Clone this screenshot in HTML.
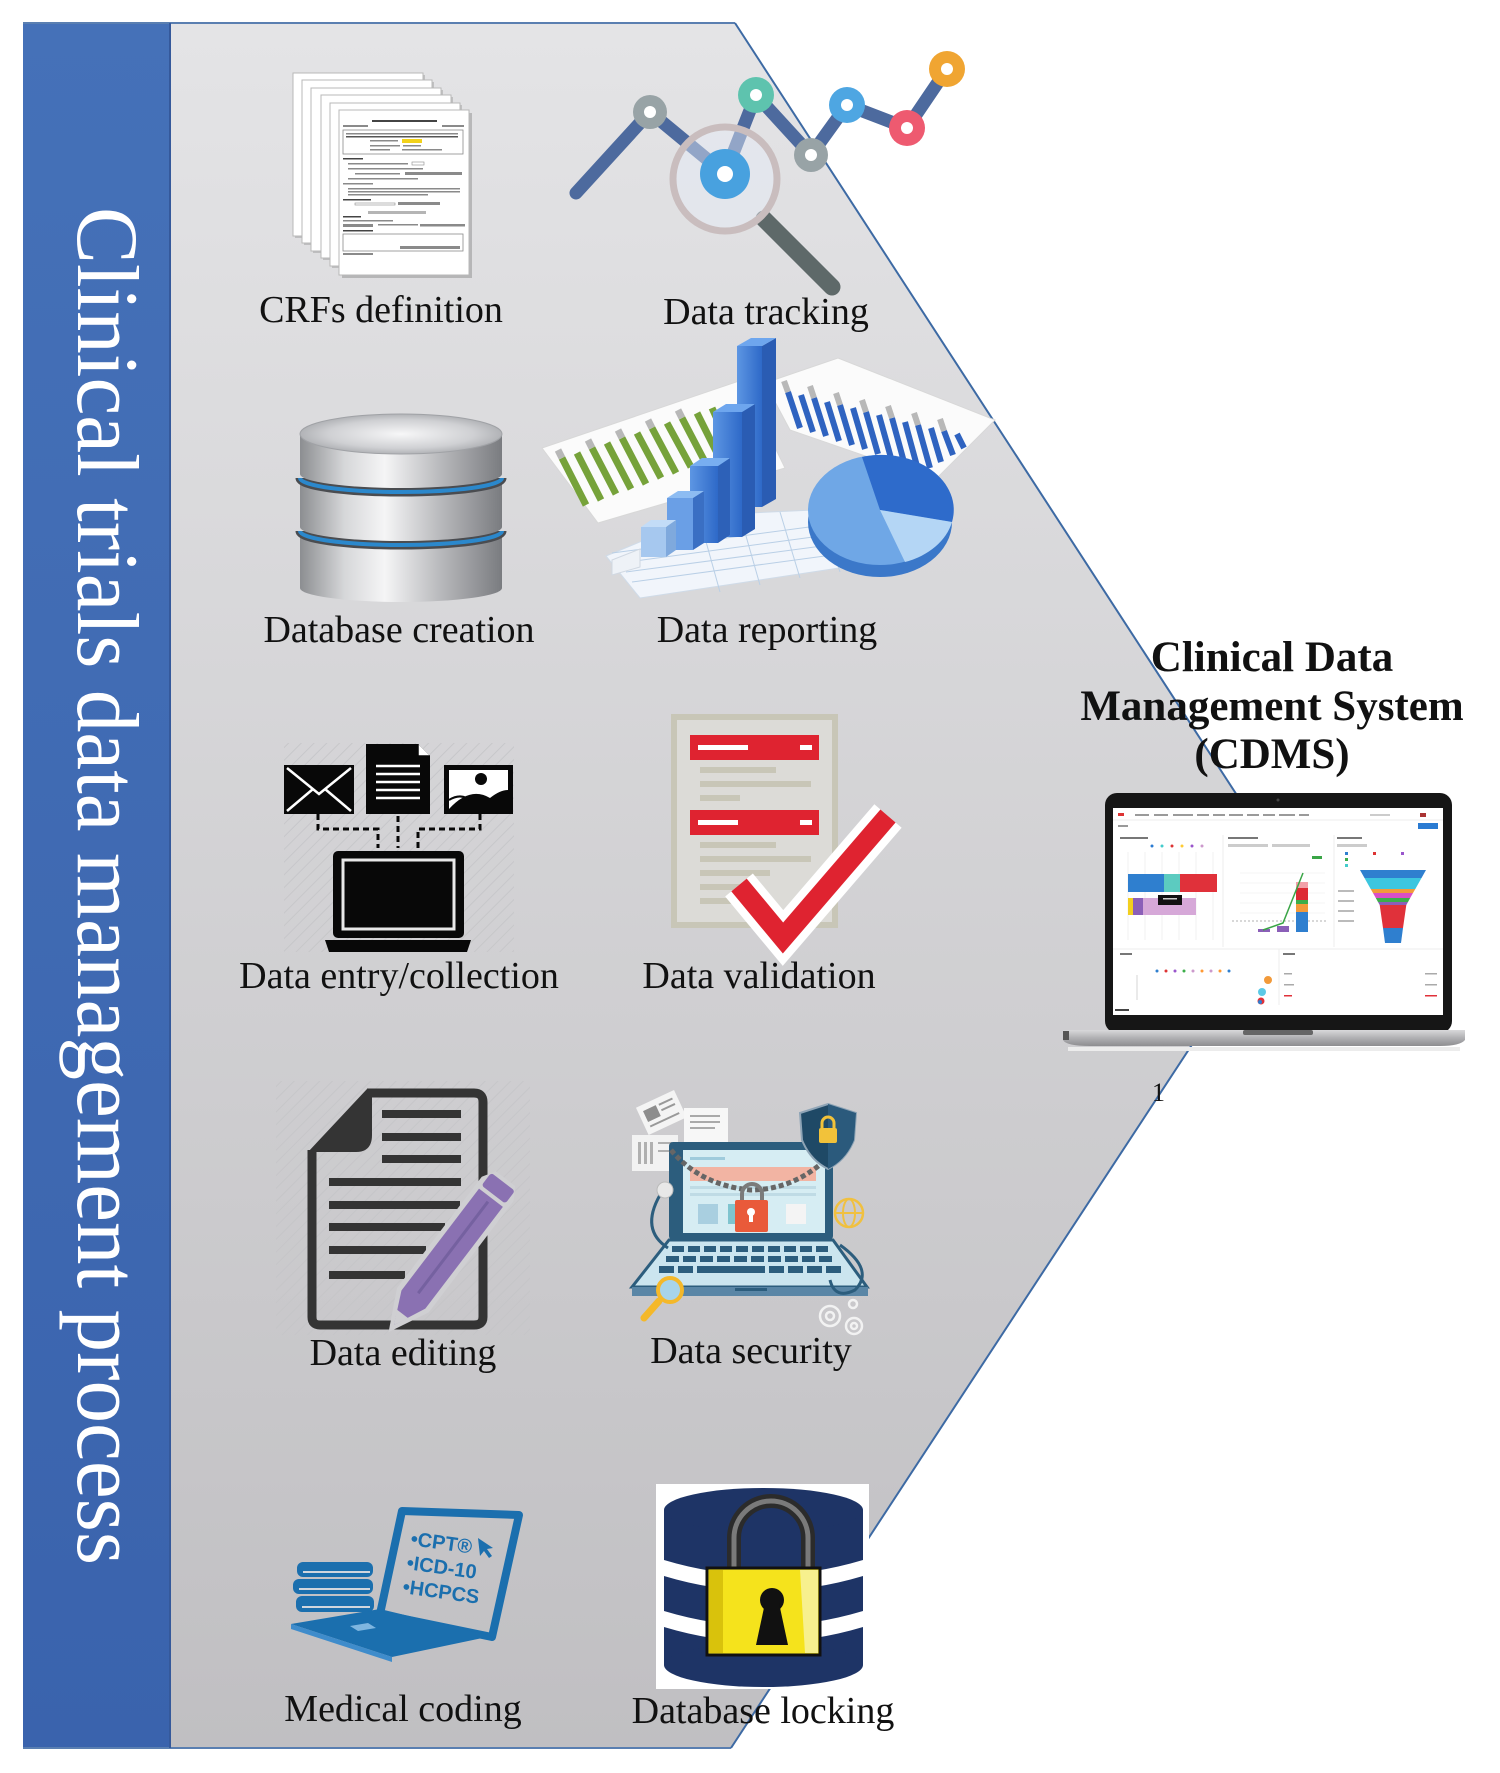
<!DOCTYPE html>
<html><head><meta charset="utf-8">
<style>
html,body{margin:0;padding:0;background:#fff;}
svg{display:block;}
.lbl{font-family:"Liberation Serif","Times New Roman",serif;font-size:38px;fill:#111;text-anchor:middle;}
</style></head><body>
<svg width="1500" height="1773" viewBox="0 0 1500 1773" xmlns="http://www.w3.org/2000/svg">
<defs>
 <linearGradient id="gbg" x1="0" y1="0" x2="0" y2="1">
  <stop offset="0" stop-color="#e4e4e6"/><stop offset="1" stop-color="#c0bfc2"/>
 </linearGradient>
 <linearGradient id="gblue" x1="0" y1="0" x2="0" y2="1">
  <stop offset="0" stop-color="#4571b8"/><stop offset="1" stop-color="#3a63ad"/>
 </linearGradient>
 <linearGradient id="silver" x1="0" x2="1" y1="0" y2="0">
  <stop offset="0" stop-color="#8c8e91"/><stop offset="0.22" stop-color="#d6d7d9"/><stop offset="0.42" stop-color="#f5f5f6"/><stop offset="0.7" stop-color="#b7b8bb"/><stop offset="1" stop-color="#7a7c80"/>
 </linearGradient>
 <radialGradient id="stop" cx="0.5" cy="0.5" r="0.6">
  <stop offset="0" stop-color="#f7f7f8"/><stop offset="0.6" stop-color="#cfd0d3"/><stop offset="1" stop-color="#9c9ea2"/>
 </radialGradient>
 <linearGradient id="barf" x1="0" x2="1" y1="0" y2="0">
  <stop offset="0" stop-color="#5d96e3"/><stop offset="1" stop-color="#2e69c8"/>
 </linearGradient>
 <linearGradient id="lbase" x1="0" x2="0" y1="0" y2="1">
  <stop offset="0" stop-color="#d9d9db"/><stop offset="0.5" stop-color="#b0b0b3"/><stop offset="1" stop-color="#8d8d90"/>
 </linearGradient>
 <pattern id="hatch" width="9" height="9" patternUnits="userSpaceOnUse" patternTransform="rotate(45)">
  <line x1="0" y1="0" x2="0" y2="9" stroke="#c4c4c7" stroke-width="2"/>
 </pattern>
</defs>

<!-- background panels -->
<rect x="23" y="23" width="147" height="1725" fill="url(#gblue)"/>
<polygon points="170,23 735,23 1296,886 731,1748 170,1748" fill="url(#gbg)"/>
<line x1="23" y1="23" x2="735" y2="23" stroke="#5a7fb1" stroke-width="2"/>
<line x1="23" y1="1748" x2="731" y2="1748" stroke="#5a7fb1" stroke-width="2"/>
<line x1="170" y1="23" x2="170" y2="1748" stroke="#35599b" stroke-width="2"/>
<polyline points="735,23 1296,886 731,1748" fill="none" stroke="#3d6aa4" stroke-width="2"/>

<!-- vertical title -->
<text transform="translate(78,207) rotate(90)" x="0" y="0" font-family="Liberation Serif, Times New Roman, serif" font-size="88" fill="#ffffff" textLength="1358" lengthAdjust="spacingAndGlyphs">Clinical trials data management process</text>

<!-- ===== CRFs pages ===== -->
<g>
 <g fill="#fff" stroke="#b8b8b8" stroke-width="1">
  <rect x="295" y="75" width="130" height="163" fill="#9d9d9d" stroke="none" opacity="0.5"/>
  <rect x="293" y="73" width="130" height="163"/>
  <rect x="304" y="82" width="130" height="163" fill="#9d9d9d" stroke="none" opacity="0.5"/>
  <rect x="302" y="80" width="130" height="163"/>
  <rect x="313" y="90" width="130" height="163" fill="#9d9d9d" stroke="none" opacity="0.5"/>
  <rect x="311" y="88" width="130" height="163"/>
  <rect x="323" y="97" width="130" height="163" fill="#9d9d9d" stroke="none" opacity="0.5"/>
  <rect x="321" y="95" width="130" height="163"/>
  <rect x="332" y="105" width="130" height="163" fill="#9d9d9d" stroke="none" opacity="0.5"/>
  <rect x="330" y="103" width="130" height="163"/>
  <rect x="342" y="113" width="130" height="165" fill="#8d8d8d" stroke="none" opacity="0.5"/>
  <rect x="339" y="110" width="130" height="165"/>
 </g>
 <g fill="#8a8a8a">
  <rect x="372" y="120" width="65" height="2" fill="#444"/>
  <rect x="343" y="125" width="25" height="2"/><rect x="442" y="125" width="22" height="2"/>
  <rect x="343" y="130" width="120" height="24" fill="none" stroke="#8a8a8a" stroke-width="0.8"/>
  <rect x="346" y="133" width="112" height="1.5"/><rect x="346" y="136" width="112" height="1.5" fill="#555"/>
  <rect x="370" y="140" width="28" height="1.5"/><rect x="402" y="139" width="20" height="4" fill="#f2d21a"/>
  <rect x="370" y="145" width="30" height="1.5"/><rect x="403" y="145" width="18" height="1.5"/>
  <rect x="370" y="149" width="20" height="1.5"/><rect x="402" y="149" width="40" height="1.5"/>
  <rect x="343" y="158" width="20" height="1.5" fill="#444"/>
  <rect x="348" y="163" width="60" height="1.5"/><rect x="412" y="162" width="12" height="3" fill="none" stroke="#8a8a8a" stroke-width="0.6"/>
  <rect x="348" y="168" width="75" height="1.5"/>
  <rect x="355" y="173" width="45" height="1.5"/><rect x="405" y="172" width="57" height="3"/>
  <rect x="348" y="178" width="70" height="1.5"/>
  <rect x="343" y="183" width="30" height="1.5"/>
  <rect x="348" y="188" width="112" height="1.5"/><rect x="348" y="191" width="112" height="1.5"/><rect x="348" y="194" width="80" height="1.5"/>
  <rect x="343" y="199" width="28" height="1.5" fill="#444"/>
  <rect x="355" y="203" width="40" height="2" fill="none" stroke="#8a8a8a" stroke-width="0.6"/><rect x="398" y="202" width="42" height="3"/>
  <rect x="368" y="211" width="58" height="3" fill="#b5b5b5"/>
  <rect x="343" y="216" width="18" height="1.5" fill="#444"/>
  <rect x="343" y="220" width="50" height="1.5"/>
  <rect x="343" y="224" width="30" height="3"/><rect x="378" y="224" width="40" height="1.5"/><rect x="420" y="224" width="45" height="2.5"/>
  <rect x="343" y="230" width="30" height="1.5" fill="#444"/>
  <rect x="343" y="234" width="120" height="17" fill="none" stroke="#8a8a8a" stroke-width="0.8"/>
  <rect x="400" y="246" width="60" height="3"/>
  <rect x="343" y="253" width="30" height="2"/>
 </g>
</g>

<!-- ===== Data tracking ===== -->
<g>
 <polyline points="576,193 650,112 725,174 756,95 811,155 847,105 907,128 947,69" fill="none" stroke="#4d6a9e" stroke-width="13" stroke-linecap="round" stroke-linejoin="round"/>
 <line x1="764" y1="219" x2="832" y2="287" stroke="#5e6969" stroke-width="17" stroke-linecap="round"/>
 <circle cx="725" cy="179" r="52" fill="#e6eef8" fill-opacity="0.45" stroke="#c9bdbe" stroke-width="7"/>
 <circle cx="650" cy="112" r="17" fill="#98a3a6"/><circle cx="650" cy="112" r="6" fill="#fff"/>
 <circle cx="725" cy="174" r="25" fill="#48a1df"/><circle cx="725" cy="174" r="8" fill="#fff"/>
 <circle cx="756" cy="95" r="18" fill="#5ec3ae"/><circle cx="756" cy="95" r="6" fill="#fff"/>
 <circle cx="811" cy="155" r="17" fill="#98a3a6"/><circle cx="811" cy="155" r="6" fill="#fff"/>
 <circle cx="847" cy="105" r="18" fill="#4ea6e2"/><circle cx="847" cy="105" r="6" fill="#fff"/>
 <circle cx="907" cy="128" r="18" fill="#ee5a70"/><circle cx="907" cy="128" r="6" fill="#fff"/>
 <circle cx="947" cy="69" r="18" fill="#f0a532"/><circle cx="947" cy="69" r="6" fill="#fff"/>
</g>

<!-- ===== Database cylinder ===== -->
<g>
 <path d="M300,535 L300,588 A101,14 0 0 0 502,588 L502,535 Z" fill="url(#silver)"/>
 <path d="M300,531 A101,14 0 0 0 502,531" fill="none" stroke="#4a4c50" stroke-width="9"/>
 <path d="M300,531 A101,14 0 0 0 502,531" fill="none" stroke="#2b88cc" stroke-width="4"/>
 <path d="M300,482 L300,527 A101,14 0 0 0 502,527 L502,482 Z" fill="url(#silver)"/>
 <path d="M300,478 A101,14 0 0 0 502,478" fill="none" stroke="#4a4c50" stroke-width="9"/>
 <path d="M300,478 A101,14 0 0 0 502,478" fill="none" stroke="#2b88cc" stroke-width="4"/>
 <path d="M300,434 L300,474 A101,14 0 0 0 502,474 L502,434 Z" fill="url(#silver)"/>
 <ellipse cx="401" cy="434" rx="101" ry="20" fill="url(#stop)" stroke="#a0a2a6" stroke-width="1"/>
</g>

<!-- ===== Data reporting ===== -->
<g>
 <polygon points="542,448 742,380 785,468 598,523" fill="#fbfbfb" stroke="#d8d8d8"/>
 <g stroke="#76a23a" stroke-width="7" stroke-linecap="butt">
  <line x1="562" y1="458" x2="586" y2="505"/><line x1="577" y1="453" x2="601" y2="500"/>
  <line x1="592" y1="448" x2="616" y2="494"/><line x1="607" y1="443" x2="631" y2="489"/>
  <line x1="622" y1="438" x2="646" y2="484"/><line x1="637" y1="433" x2="661" y2="478"/>
  <line x1="652" y1="428" x2="676" y2="473"/><line x1="667" y1="423" x2="691" y2="467"/>
  <line x1="682" y1="418" x2="704" y2="460"/><line x1="697" y1="413" x2="718" y2="455"/>
  <line x1="712" y1="408" x2="730" y2="448"/>
 </g>
 <g stroke="#b8b8b8" stroke-width="7">
  <line x1="558" y1="450" x2="562" y2="458"/><line x1="588" y1="440" x2="592" y2="448"/><line x1="618" y1="430" x2="622" y2="438"/><line x1="648" y1="420" x2="652" y2="428"/><line x1="678" y1="410" x2="682" y2="418"/>
 </g>
 <polygon points="765,383 838,358 995,420 935,480 790,430" fill="#fbfbfb" stroke="#d8d8d8"/>
 <g stroke="#2f63c0" stroke-width="6">
  <line x1="788" y1="392" x2="800" y2="428"/><line x1="801" y1="395" x2="813" y2="432"/>
  <line x1="814" y1="398" x2="826" y2="436"/><line x1="827" y1="402" x2="839" y2="441"/>
  <line x1="840" y1="405" x2="852" y2="445"/><line x1="853" y1="408" x2="865" y2="449"/>
  <line x1="866" y1="412" x2="878" y2="454"/><line x1="879" y1="415" x2="891" y2="458"/>
  <line x1="892" y1="418" x2="904" y2="462"/><line x1="905" y1="422" x2="917" y2="466"/>
  <line x1="918" y1="425" x2="930" y2="468"/><line x1="931" y1="428" x2="941" y2="462"/>
  <line x1="944" y1="431" x2="953" y2="455"/><line x1="957" y1="434" x2="964" y2="448"/>
 </g>
 <g stroke="#b8b8b8" stroke-width="6">
  <line x1="784" y1="381" x2="788" y2="392"/><line x1="810" y1="386" x2="814" y2="398"/>
  <line x1="836" y1="393" x2="840" y2="405"/><line x1="862" y1="400" x2="866" y2="412"/>
  <line x1="888" y1="406" x2="892" y2="418"/><line x1="914" y1="413" x2="918" y2="425"/>
  <line x1="940" y1="419" x2="944" y2="431"/>
 </g>
 <polygon points="606,556 705,515 858,508 872,563 640,598" fill="#f1f5fb" stroke="#cfdbe8"/>
 <g stroke="#b9cfe6" stroke-width="1">
  <line x1="620" y1="563" x2="865" y2="530"/><line x1="626" y1="572" x2="867" y2="540"/>
  <line x1="632" y1="582" x2="869" y2="550"/><line x1="612" y1="553" x2="862" y2="520"/>
  <line x1="700" y1="520" x2="720" y2="592"/><line x1="740" y1="515" x2="760" y2="585"/>
  <line x1="780" y1="512" x2="800" y2="578"/><line x1="820" y1="510" x2="840" y2="572"/>
 </g>
 <!-- 3D bars -->
 <polygon points="762,346 776,338 776,499 762,507" fill="#2a5cb3"/>
 <polygon points="737,346 751,338 776,338 762,346" fill="#6ea6ee"/>
 <rect x="737" y="346" width="25" height="161" fill="url(#barf)"/>
 <polygon points="742,412 755,404 755,529 742,537" fill="#2a5cb3"/>
 <polygon points="713,412 726,404 755,404 742,412" fill="#6ea6ee"/>
 <rect x="713" y="412" width="29" height="125" fill="url(#barf)"/>
 <polygon points="718,466 730,458 730,535 718,543" fill="#2d61b8"/>
 <polygon points="690,466 702,458 730,458 718,466" fill="#78aef0"/>
 <rect x="690" y="466" width="28" height="77" fill="url(#barf)"/>
 <polygon points="693,498 704,491 704,543 693,550" fill="#3a6fc3"/>
 <polygon points="667,498 678,491 704,491 693,498" fill="#8dbcf2"/>
 <rect x="667" y="498" width="26" height="52" fill="#6a9fe6"/>
 <polygon points="666,527 676,520 676,550 666,557" fill="#7fa9dd"/>
 <polygon points="641,527 651,520 676,520 666,527" fill="#c3dcf7"/>
 <rect x="641" y="527" width="25" height="30" fill="#a6c8ef"/>
 <polygon points="612,560 640,549 640,567 612,575" fill="#eef2f7" stroke="#d0d8e2"/>
 <!-- pie -->
 <ellipse cx="880" cy="522" rx="72" ry="55" fill="#3b78c9"/>
 <ellipse cx="880" cy="510" rx="72" ry="55" fill="#6fa7e6"/>
 <path d="M880,510 L862,457 A72,55 0 0 1 952,522 Z" fill="#2e6bcb"/>
 <path d="M880,510 L952,522 A72,55 0 0 1 905,562 Z" fill="#b4d6f5"/>
</g>

<!-- ===== Data entry/collection ===== -->
<g>
 <rect x="284" y="743" width="230" height="209" fill="url(#hatch)" opacity="0.8"/>
 <rect x="284" y="765" width="70" height="49" fill="#080808"/>
 <polyline points="287,768 319,794 351,768" fill="none" stroke="#fff" stroke-width="2.5"/>
 <line x1="287" y1="811" x2="313" y2="789" stroke="#fff" stroke-width="2.5"/>
 <line x1="351" y1="811" x2="325" y2="789" stroke="#fff" stroke-width="2.5"/>
 <path d="M366,744 L418,744 L430,756 L430,814 L366,814 Z" fill="#080808"/>
 <path d="M418,744 L418,756 L430,756" fill="#fff" stroke="#080808" stroke-width="1.5"/>
 <g stroke="#fff" stroke-width="2.5">
  <line x1="376" y1="766" x2="420" y2="766"/><line x1="376" y1="774" x2="420" y2="774"/>
  <line x1="376" y1="782" x2="420" y2="782"/><line x1="376" y1="790" x2="420" y2="790"/>
  <line x1="376" y1="798" x2="420" y2="798"/>
 </g>
 <rect x="444" y="765" width="69" height="49" fill="#080808"/>
 <rect x="449" y="770" width="59" height="39" fill="#fff"/>
 <path d="M449,809 Q470,786 490,798 Q500,790 508,790 L508,809 Z" fill="#080808"/>
 <path d="M449,800 Q462,792 472,802" fill="none" stroke="#080808" stroke-width="2"/>
 <circle cx="481" cy="779" r="6" fill="#080808"/>
 <g fill="none" stroke="#080808" stroke-width="3" stroke-dasharray="6,4">
  <polyline points="318,814 318,829 378,829 378,848"/>
  <line x1="398" y1="816" x2="398" y2="848"/>
  <polyline points="480,814 480,829 418,829 418,848"/>
 </g>
 <rect x="333" y="851" width="131" height="87" rx="5" fill="#080808"/>
 <rect x="343" y="860" width="111" height="69" fill="none" stroke="#e8e8e8" stroke-width="3"/>
 <path d="M325,940 L471,940 L467,952 L329,952 Z" fill="#080808"/>
</g>

<!-- ===== Data validation ===== -->
<g>
 <rect x="674" y="717" width="161" height="208" fill="#dcdbd7" stroke="#c8c6b7" stroke-width="6"/>
 <rect x="690" y="735" width="129" height="25" fill="#df2330"/>
 <rect x="698" y="745" width="50" height="5" fill="#fff"/><rect x="800" y="745" width="12" height="5" fill="#fff"/>
 <rect x="690" y="810" width="129" height="25" fill="#df2330"/>
 <rect x="698" y="820" width="40" height="5" fill="#fff"/><rect x="800" y="820" width="12" height="5" fill="#fff"/>
 <g stroke="#c8c6b7" stroke-width="6">
  <line x1="700" y1="770" x2="776" y2="770"/><line x1="700" y1="784" x2="811" y2="784"/><line x1="700" y1="798" x2="740" y2="798"/>
  <line x1="700" y1="845" x2="776" y2="845"/><line x1="700" y1="859" x2="811" y2="859"/><line x1="700" y1="873" x2="770" y2="873"/>
  <line x1="700" y1="887" x2="745" y2="887"/><line x1="700" y1="901" x2="745" y2="901"/>
 </g>
 <polyline points="739,885 783,938 888,816" fill="none" stroke="#ffffff" stroke-width="36" stroke-linejoin="miter" stroke-miterlimit="3"/>
 <polyline points="739,885 783,938 888,816" fill="none" stroke="#df2330" stroke-width="20" stroke-linejoin="miter" stroke-miterlimit="3"/>
</g>

<!-- ===== Data editing ===== -->
<g>
 <rect x="276" y="1081" width="254" height="254" fill="url(#hatch)" opacity="0.8"/>
 <path d="M367,1093 L474,1093 Q483,1093 483,1102 L483,1317 Q483,1325 474,1325 L320,1325 Q312,1325 312,1317 L312,1150" fill="none" stroke="#343434" stroke-width="9"/>
 <path d="M308,1152 L367,1089 L372,1089 L372,1135 Q372,1152 356,1152 Z" fill="#343434"/>
 <g stroke="#343434" stroke-width="8">
  <line x1="382" y1="1114" x2="461" y2="1114"/><line x1="382" y1="1137" x2="461" y2="1137"/><line x1="382" y1="1159" x2="461" y2="1159"/>
  <line x1="329" y1="1182" x2="461" y2="1182"/><line x1="329" y1="1205" x2="460" y2="1205"/>
  <line x1="329" y1="1227" x2="445" y2="1227"/><line x1="329" y1="1250" x2="426" y2="1250"/><line x1="329" y1="1275" x2="405" y2="1275"/>
 </g>
 <g transform="translate(394,1325) rotate(-52.7)">
  <path d="M0,0 L32,-16 L170,-16 L180,-10 L180,10 L170,16 L32,16 Z" fill="#cfcfd2" stroke="#cfcfd2" stroke-width="8"/>
  <path d="M0,0 L32,-15 L160,-15 L160,15 L32,15 Z" fill="#8a71b2"/>
  <path d="M0,0 L14,-7 L14,7 Z" fill="#cfcfd2"/>
  <rect x="164" y="-15" width="16" height="30" rx="3" fill="#8a71b2"/>
  <line x1="40" y1="0" x2="155" y2="0" stroke="#7561a0" stroke-width="3"/>
 </g>
</g>

<!-- ===== Data security ===== -->
<g>
 <g transform="rotate(-25 660 1112)"><rect x="640" y="1098" width="42" height="30" fill="#f4f4f4"/><rect x="645" y="1104" width="14" height="12" fill="#8d8d8d"/><rect x="662" y="1104" width="15" height="2" fill="#999"/><rect x="662" y="1110" width="15" height="2" fill="#999"/><rect x="645" y="1120" width="32" height="2" fill="#999"/></g>
 <rect x="684" y="1108" width="44" height="34" fill="#f7f7f7"/>
 <g fill="#aaa"><rect x="690" y="1115" width="30" height="2"/><rect x="690" y="1121" width="30" height="2"/><rect x="690" y="1127" width="25" height="2"/></g>
 <rect x="632" y="1135" width="46" height="36" fill="#f2f2f2"/>
 <g fill="#b0b0b0"><rect x="638" y="1142" width="3" height="22"/><rect x="644" y="1142" width="3" height="22"/><rect x="650" y="1142" width="3" height="22"/><rect x="658" y="1142" width="14" height="2"/><rect x="658" y="1150" width="14" height="2"/></g>
 <rect x="669" y="1142" width="164" height="98" rx="4" fill="#2c5d7d"/>
 <rect x="683" y="1150" width="142" height="83" fill="#d6edf3"/>
 <rect x="690" y="1157" width="35" height="3" fill="#9fcbdc"/>
 <rect x="690" y="1167" width="126" height="14" fill="#f2b4a3"/>
 <rect x="690" y="1186" width="126" height="3" fill="#bfdbe5"/><rect x="690" y="1193" width="126" height="3" fill="#bfdbe5"/>
 <rect x="698" y="1204" width="20" height="20" fill="#a9cfe0"/><rect x="728" y="1204" width="14" height="20" fill="#7fc4cf"/><rect x="786" y="1204" width="20" height="20" fill="#f4f4f4"/>
 <path d="M671,1150 Q700,1185 750,1190 Q790,1190 822,1163" fill="none" stroke="#666" stroke-width="5" stroke-dasharray="5,3"/>
 <path d="M742,1203 L742,1194 A10,10 0 0 1 762,1194 L762,1203" fill="none" stroke="#7b7b7b" stroke-width="4"/>
 <rect x="735" y="1200" width="33" height="32" rx="2" fill="#e95a3a"/>
 <circle cx="751" cy="1212" r="4" fill="#fff"/><rect x="749" y="1212" width="4" height="10" fill="#fff"/>
 <polygon points="669,1240 833,1240 867,1287 632,1287" fill="#cbe5ef" stroke="#2c5d7d" stroke-width="3"/>
 <g fill="#2c5d7d">
  <rect x="672" y="1246" width="12" height="6"/><rect x="688" y="1246" width="12" height="6"/><rect x="704" y="1246" width="12" height="6"/><rect x="720" y="1246" width="12" height="6"/><rect x="736" y="1246" width="12" height="6"/><rect x="752" y="1246" width="12" height="6"/><rect x="768" y="1246" width="12" height="6"/><rect x="784" y="1246" width="12" height="6"/><rect x="800" y="1246" width="12" height="6"/><rect x="816" y="1246" width="12" height="6"/>
  <rect x="666" y="1256" width="13" height="6"/><rect x="683" y="1256" width="13" height="6"/><rect x="700" y="1256" width="13" height="6"/><rect x="717" y="1256" width="13" height="6"/><rect x="734" y="1256" width="13" height="6"/><rect x="751" y="1256" width="13" height="6"/><rect x="768" y="1256" width="13" height="6"/><rect x="785" y="1256" width="13" height="6"/><rect x="802" y="1256" width="13" height="6"/><rect x="819" y="1256" width="13" height="6"/>
  <rect x="659" y="1266" width="15" height="7"/><rect x="678" y="1266" width="15" height="7"/><rect x="697" y="1266" width="68" height="7"/><rect x="769" y="1266" width="15" height="7"/><rect x="788" y="1266" width="15" height="7"/><rect x="807" y="1266" width="15" height="7"/><rect x="826" y="1266" width="15" height="7"/>
 </g>
 <rect x="632" y="1287" width="236" height="9" fill="#5a86a6"/>
 <rect x="735" y="1288" width="32" height="3" fill="#2c5d7d"/>
 <path d="M660,1195 Q640,1230 668,1248" fill="none" stroke="#2c5d7d" stroke-width="3"/>
 <path d="M840,1245 Q875,1270 855,1290 Q835,1300 830,1280" fill="none" stroke="#2c5d7d" stroke-width="3"/>
 <circle cx="665" cy="1190" r="8" fill="#e8e8e8" stroke="#bbb"/>
 <path d="M828,1104 L856,1113 L854,1140 Q846,1160 828,1169 Q810,1160 802,1140 L800,1113 Z" fill="#1f4966" stroke="#8ea4b6" stroke-width="2"/>
 <path d="M828,1104 L856,1113 L854,1140 Q846,1160 828,1169 Z" fill="#2b5a7c"/>
 <path d="M822,1128 L822,1123 A6,6 0 0 1 834,1123 L834,1128" fill="none" stroke="#f2c23a" stroke-width="3"/>
 <rect x="819" y="1128" width="18" height="15" rx="2" fill="#f2c23a"/>
 <circle cx="849" cy="1213" r="14" fill="none" stroke="#f0c040" stroke-width="2.5"/>
 <ellipse cx="849" cy="1213" rx="6" ry="14" fill="none" stroke="#f0c040" stroke-width="2"/>
 <line x1="835" y1="1213" x2="863" y2="1213" stroke="#f0c040" stroke-width="2"/>
 <line x1="659" y1="1301" x2="644" y2="1318" stroke="#f4b82a" stroke-width="7" stroke-linecap="round"/>
 <circle cx="670" cy="1290" r="12" fill="#a8d4ea" stroke="#f4b82a" stroke-width="4"/>
 <g fill="none" stroke="#f2f2f2" stroke-width="2.5">
  <circle cx="830" cy="1316" r="10"/><circle cx="830" cy="1316" r="4"/>
  <circle cx="854" cy="1326" r="8"/><circle cx="854" cy="1326" r="3"/>
  <circle cx="853" cy="1304" r="4"/>
 </g>
</g>

<!-- ===== Medical coding ===== -->
<g>
 <polygon points="402,1511 519,1515 492,1637 380,1614" fill="none" stroke="#1b6fae" stroke-width="8" stroke-linejoin="round"/>
 <polygon points="291,1624 380,1609 492,1636 392,1657" fill="#1b6fae"/>
 <polygon points="291,1624 392,1657 392,1662 291,1629" fill="#3f8ccb"/>
 <polygon points="350,1626 368,1623 376,1628 358,1631" fill="#7fb6e0"/>
 <g fill="#1b6fae">
  <rect x="297" y="1562" width="76" height="15" rx="6"/>
  <rect x="293" y="1579" width="80" height="15" rx="6"/>
  <rect x="296" y="1596" width="78" height="16" rx="6"/>
 </g>
 <g stroke="#d0d6de" stroke-width="2">
  <line x1="303" y1="1572" x2="370" y2="1572"/><line x1="299" y1="1589" x2="370" y2="1589"/><line x1="302" y1="1607" x2="370" y2="1607"/>
 </g>
 <g font-family="Liberation Sans Narrow, Liberation Sans, sans-serif" font-size="20" fill="#1b6fae" font-weight="bold">
  <text transform="translate(410,1545) rotate(8)">•CPT®</text>
  <text transform="translate(406,1569) rotate(8)">•ICD-10</text>
  <text transform="translate(402,1593) rotate(8)">•HCPCS</text>
 </g>
 <path d="M478,1538 L480,1556 L484,1551 L489,1558 L492,1556 L487,1549 L493,1548 Z" fill="#1b6fae"/>
</g>

<!-- ===== Database locking ===== -->
<g>
 <rect x="656" y="1484" width="213" height="205" fill="#ffffff"/>
 <rect x="664" y="1510" width="199" height="155" fill="#1e3466"/>
 <ellipse cx="763.5" cy="1510" rx="99.5" ry="22" fill="#1e3466"/>
 <ellipse cx="763.5" cy="1665" rx="99.5" ry="22" fill="#1e3466"/>
 <path d="M664,1560 Q763,1590 863,1560 L863,1576 Q763,1606 664,1576 Z" fill="#ffffff"/>
 <path d="M664,1611 Q763,1641 863,1611 L863,1627 Q763,1657 664,1627 Z" fill="#ffffff"/>
 <path d="M734,1575 L734,1538 A37,37 0 0 1 808,1538 L808,1575" fill="none" stroke="#2b2b2b" stroke-width="14"/>
 <path d="M734,1575 L734,1538 A37,37 0 0 1 808,1538 L808,1575" fill="none" stroke="#7a7a7a" stroke-width="5"/>
 <rect x="707" y="1568" width="113" height="87" fill="#f5e31c" stroke="#111" stroke-width="3"/>
 <rect x="709" y="1570" width="14" height="83" fill="#d9c20c"/>
 <polygon points="800,1570 818,1570 818,1653 805,1653" fill="#f7f08e"/>
 <circle cx="772" cy="1600" r="12" fill="#111"/>
 <polygon points="765,1603 779,1603 788,1645 756,1645" fill="#111"/>
</g>

<!-- ===== Labels ===== -->
<text class="lbl" x="381" y="322">CRFs definition</text>
<text class="lbl" x="766" y="324">Data tracking</text>
<text class="lbl" x="399" y="642">Database creation</text>
<text class="lbl" x="767" y="642">Data reporting</text>
<text class="lbl" x="399" y="988">Data entry/collection</text>
<text class="lbl" x="759" y="988">Data validation</text>
<text class="lbl" x="403" y="1365">Data editing</text>
<text class="lbl" x="751" y="1363">Data security</text>
<text class="lbl" x="403" y="1721">Medical coding</text>
<text class="lbl" x="763" y="1723">Database locking</text>

<!-- ===== CDMS title ===== -->
<g font-family="Liberation Serif, Times New Roman, serif" font-size="43" font-weight="bold" fill="#111" text-anchor="middle">
 <text x="1272" y="671">Clinical Data</text>
 <text x="1272" y="720">Management System</text>
 <text x="1272" y="768">(CDMS)</text>
</g>

<!-- ===== Laptop ===== -->
<g>
 <rect x="1105" y="793" width="347" height="240" rx="12" fill="#161616"/>
 <circle cx="1278" cy="800" r="1.5" fill="#444"/>
 <rect x="1113" y="808" width="330" height="207" fill="#ffffff"/>
 <g fill="#9a9a9a">
  <rect x="1118" y="813" width="6" height="3" fill="#d33"/>
  <rect x="1135" y="814" width="14" height="2"/><rect x="1154" y="814" width="14" height="2"/><rect x="1173" y="814" width="20" height="2"/><rect x="1197" y="814" width="12" height="2"/><rect x="1213" y="814" width="12" height="2"/><rect x="1229" y="814" width="14" height="2"/><rect x="1247" y="814" width="12" height="2"/><rect x="1263" y="814" width="12" height="2"/><rect x="1279" y="814" width="16" height="2"/><rect x="1299" y="814" width="10" height="2"/>
  <rect x="1370" y="814" width="20" height="2" fill="#ccc"/><rect x="1420" y="813" width="6" height="4" fill="#a33"/>
  <rect x="1118" y="825" width="10" height="2"/>
 </g>
 <rect x="1418" y="823" width="20" height="6" fill="#2a7bd2"/>
 <line x1="1113" y1="820" x2="1443" y2="820" stroke="#eee"/>
 <line x1="1223" y1="835" x2="1223" y2="947" stroke="#eee"/>
 <line x1="1334" y1="835" x2="1334" y2="947" stroke="#eee"/>
 <g fill="#777"><rect x="1120" y="837" width="28" height="2"/><rect x="1228" y="837" width="30" height="2"/><rect x="1337" y="837" width="25" height="2"/>
 <rect x="1120" y="953" width="12" height="2"/><rect x="1283" y="953" width="12" height="2"/></g>
 <g fill="#ccc"><rect x="1228" y="844" width="40" height="3"/><rect x="1272" y="844" width="38" height="3"/><rect x="1337" y="844" width="30" height="3"/></g>
 <g>
  <circle cx="1152" cy="846" r="1.5" fill="#2a7bd2"/><circle cx="1162" cy="846" r="1.5" fill="#4cc"/><circle cx="1172" cy="846" r="1.5" fill="#d33"/><circle cx="1182" cy="846" r="1.5" fill="#fc3"/><circle cx="1192" cy="846" r="1.5" fill="#95c"/><circle cx="1202" cy="846" r="1.5" fill="#c9c"/>
 </g>
 <g stroke="#eee" stroke-width="0.8">
  <line x1="1128" y1="852" x2="1128" y2="940"/><line x1="1145" y1="852" x2="1145" y2="940"/><line x1="1162" y1="852" x2="1162" y2="940"/><line x1="1179" y1="852" x2="1179" y2="940"/><line x1="1196" y1="852" x2="1196" y2="940"/><line x1="1213" y1="852" x2="1213" y2="940"/>
 </g>
 <rect x="1128" y="874" width="36" height="18" fill="#2f7fcf"/>
 <rect x="1164" y="874" width="16" height="18" fill="#5ccbc0"/>
 <rect x="1180" y="874" width="37" height="18" fill="#e0313a"/>
 <rect x="1128" y="898" width="5" height="17" fill="#f2cf1f"/>
 <rect x="1133" y="898" width="10" height="17" fill="#8b5fb8"/>
 <rect x="1143" y="898" width="53" height="17" fill="#d6a8d8"/>
 <rect x="1158" y="895" width="24" height="10" fill="#111"/>
 <rect x="1163" y="898" width="14" height="1.5" fill="#ccc"/>
 <g stroke="#f0f0f0" stroke-width="0.8">
  <line x1="1240" y1="873" x2="1325" y2="873"/><line x1="1240" y1="883" x2="1325" y2="883"/><line x1="1240" y1="893" x2="1325" y2="893"/><line x1="1240" y1="903" x2="1325" y2="903"/><line x1="1240" y1="913" x2="1325" y2="913"/>
 </g>
 <line x1="1232" y1="921" x2="1328" y2="921" stroke="#999" stroke-width="0.8" stroke-dasharray="2,2"/>
 <rect x="1296" y="882" width="12" height="6" fill="#f2a0a8"/>
 <rect x="1296" y="888" width="12" height="12" fill="#dd2b34"/>
 <rect x="1296" y="900" width="12" height="4" fill="#3cae4a"/>
 <rect x="1296" y="904" width="12" height="8" fill="#f29a3a"/>
 <rect x="1296" y="912" width="12" height="20" fill="#2f7fcf"/>
 <rect x="1258" y="929" width="12" height="3" fill="#8b5fb8"/>
 <rect x="1277" y="926" width="12" height="6" fill="#8b5fb8"/>
 <polyline points="1263,930 1283,923 1303,873" fill="none" stroke="#3aa546" stroke-width="1.5"/>
 <rect x="1312" y="856" width="10" height="3" fill="#3aa546"/>
 <polygon points="1360,870 1426,870 1421.5,878 1364.5,878" fill="#2f7fcf"/>
 <polygon points="1364.5,878 1421.5,878 1415.3,889 1370.7,889" fill="#3cc6df"/>
 <polygon points="1370.7,889 1415.3,889 1413,893 1373,893" fill="#f29a3a"/>
 <polygon points="1373,893 1413,893 1410.2,898 1375.8,898" fill="#d94fc6"/>
 <polygon points="1375.8,898 1410.2,898 1408,902 1378,902" fill="#3cae4a"/>
 <polygon points="1378,902 1408,902 1406.3,905 1379.7,905" fill="#8b5fb8"/>
 <polygon points="1379.7,905 1406.3,905 1403,928 1383,928" fill="#e0313a"/>
 <polygon points="1383,928 1403,928 1401,943 1385,943" fill="#2f7fcf"/>
 <g fill="#2f7fcf"><rect x="1345" y="852" width="3" height="3"/><rect x="1345" y="858" width="3" height="3" fill="#3cae4a"/><rect x="1345" y="864" width="3" height="3" fill="#4cc"/><rect x="1373" y="852" width="3" height="3" fill="#d33"/><rect x="1401" y="852" width="3" height="3" fill="#95c"/></g>
 <g fill="#bbb"><rect x="1338" y="890" width="16" height="2"/><rect x="1338" y="900" width="16" height="2"/><rect x="1338" y="910" width="16" height="2"/><rect x="1338" y="920" width="16" height="2"/></g>
 <line x1="1113" y1="949" x2="1443" y2="949" stroke="#eee"/>
 <line x1="1279" y1="949" x2="1279" y2="1005" stroke="#eee"/>
 <g>
  <circle cx="1157" cy="971" r="1.5" fill="#2f7fcf"/><circle cx="1166" cy="971" r="1.5" fill="#d33"/><circle cx="1175" cy="971" r="1.5" fill="#95c"/><circle cx="1184" cy="971" r="1.5" fill="#3cae4a"/><circle cx="1193" cy="971" r="1.5" fill="#c9c"/><circle cx="1202" cy="971" r="1.5" fill="#f93"/><circle cx="1211" cy="971" r="1.5" fill="#c9c"/><circle cx="1220" cy="971" r="1.5" fill="#f93"/><circle cx="1229" cy="971" r="1.5" fill="#2f7fcf"/>
 </g>
 <line x1="1137" y1="975" x2="1137" y2="1000" stroke="#ccc" stroke-width="0.8"/>
 <circle cx="1268" cy="980" r="4" fill="#f29a3a"/>
 <circle cx="1262" cy="992" r="4" fill="#5cc9e6"/>
 <circle cx="1261" cy="1001" r="3.5" fill="#e0313a"/>
 <circle cx="1260" cy="1002" r="2" fill="#2f7fcf"/>
 <g fill="#aaa"><rect x="1284" y="973" width="8" height="1.5"/><rect x="1284" y="984" width="10" height="1.5"/><rect x="1425" y="973" width="12" height="1.5"/><rect x="1425" y="984" width="12" height="1.5"/></g>
 <rect x="1284" y="995" width="8" height="1.5" fill="#e0313a"/><rect x="1425" y="995" width="12" height="1.5" fill="#e0313a"/>
 <rect x="1115" y="1009" width="14" height="2" fill="#444"/>
 <path d="M1063,1030 L1465,1030 L1465,1040 Q1460,1046 1440,1046 L1090,1046 Q1066,1046 1063,1040 Z" fill="url(#lbase)"/>
 <rect x="1063" y="1031" width="6" height="9" fill="#555"/>
 <rect x="1243" y="1030" width="70" height="5" rx="2" fill="#666"/>
 <rect x="1068" y="1047" width="392" height="4" fill="#ececec"/>
</g>

<text x="1152" y="1101" font-family="Liberation Serif, serif" font-size="26" fill="#111">1</text>
</svg>
</body></html>
